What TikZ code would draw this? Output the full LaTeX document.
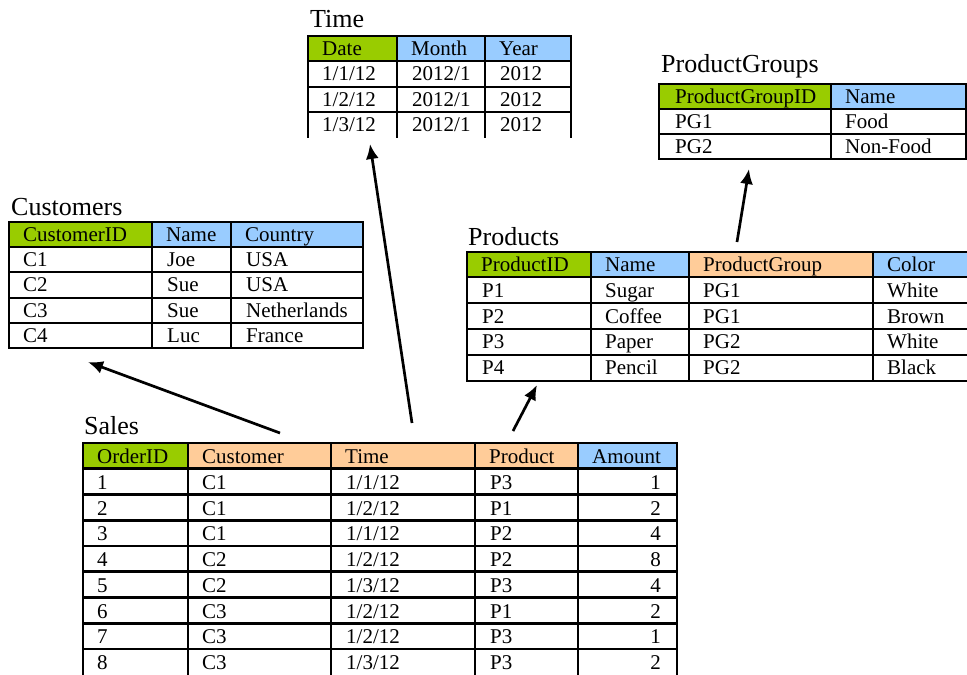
\documentclass[tikz,border=0pt]{standalone}
\usepackage{fontspec}
\setmainfont{Liberation Serif}
\usetikzlibrary{arrows.meta}
\definecolor{keygreen}{HTML}{99CC00}
\definecolor{attrblue}{HTML}{99CCFF}
\definecolor{fkorange}{HTML}{FFCC99}

\begin{document}
\begin{tikzpicture}[
    x=1pt, y=-1pt,
    every node/.style={font=\fontsize{21}{24}\selectfont, inner sep=0pt},
    title/.style={anchor=base west, font=\fontsize{26}{30}\selectfont},
    cell/.style={anchor=base west},
    num/.style={anchor=base east},
    grid/.style={line width=2.7pt, line cap=rect},
    link/.style={-{Latex[length=15pt,width=13pt]}, line width=2.7pt}
]
\useasboundingbox (0,0) rectangle (967,675);

% Time
\node[title] (timeT) at (310,27) {Time};
\fill[keygreen] (308,36) rectangle (397,61);
\fill[attrblue] (397,36) rectangle (571,61);
\draw[grid] (308,137) -- (308,36) -- (571,36) -- (571,137);
\foreach \y in {61,87,112} \draw[grid] (308,\y) -- (571,\y);
\foreach \x in {397,485} \draw[grid] (\x,36) -- (\x,137);
\foreach \t/\x [count=\c] in {Date/308,Month/397,Year/485}
  \node[cell] (time-h\c) at (\x+14,55) {\t};
\foreach \d/\m/\yr [count=\r] in {{1/1/12}/{2012/1}/2012,{1/2/12}/{2012/1}/2012,{1/3/12}/{2012/1}/2012} {
  \node[cell] (time-\r-1) at (322,55.5+25.3*\r) {\d};
  \node[cell] (time-\r-2) at (412,55.5+25.3*\r) {\m};
  \node[cell] (time-\r-3) at (500,55.5+25.3*\r) {\yr};
}

% ProductGroups
\node[title] (groupsT) at (661,72) {ProductGroups};
\fill[keygreen] (659,84) rectangle (831,109);
\fill[attrblue] (831,84) rectangle (966,109);
\draw[grid] (659,84) rectangle (966,159);
\foreach \y in {109,134} \draw[grid] (659,\y) -- (966,\y);
\draw[grid] (831,84) -- (831,159);
\node[cell] (groups-h1) at (675,103) {ProductGroupID};
\node[cell] (groups-h2) at (845,103) {Name};
\foreach \g/\n [count=\r] in {PG1/Food,PG2/Non-Food} {
  \node[cell] (groups-\r-1) at (675,103.5+25*\r) {\g};
  \node[cell] (groups-\r-2) at (845,103.5+25*\r) {\n};
}

% Customers
\node[title] (custT) at (11,215) {Customers};
\fill[keygreen] (9,222) rectangle (152,247);
\fill[attrblue] (152,222) rectangle (363,247);
\draw[grid] (9,222) rectangle (363,348);
\foreach \y in {247,272,298,323} \draw[grid] (9,\y) -- (363,\y);
\foreach \x in {152,231} \draw[grid] (\x,222) -- (\x,348);
\foreach \t/\x [count=\c] in {CustomerID/9,Name/152,Country/231}
  \node[cell] (cust-h\c) at (\x+14,241) {\t};
\foreach \id/\n/\co [count=\r] in {C1/Joe/USA,C2/Sue/USA,C3/Sue/Netherlands,C4/Luc/France} {
  \node[cell] (cust-\r-1) at (23,241.5+25.2*\r) {\id};
  \node[cell] (cust-\r-2) at (167,241.5+25.2*\r) {\n};
  \node[cell] (cust-\r-3) at (246,241.5+25.2*\r) {\co};
}

% Products
\node[title] (prodT) at (468,245) {Products};
\fill[keygreen] (467,252) rectangle (591,277);
\fill[attrblue] (591,252) rectangle (689,277);
\fill[fkorange] (689,252) rectangle (873,277);
\fill[attrblue] (873,252) rectangle (980,277);
\draw[grid] (980,252) -- (467,252) -- (467,381) -- (980,381);
\foreach \y in {277,303,329,355} \draw[grid] (467,\y) -- (980,\y);
\foreach \x in {591,689,873} \draw[grid] (\x,252) -- (\x,381);
\foreach \t/\x [count=\c] in {ProductID/467,Name/591,ProductGroup/689,Color/873}
  \node[cell] (prod-h\c) at (\x+14,271) {\t};
\foreach \id/\n/\g/\co [count=\r] in {P1/Sugar/PG1/White,P2/Coffee/PG1/Brown,P3/Paper/PG2/White,P4/Pencil/PG2/Black} {
  \node[cell] (prod-\r-1) at (482,271.5+25.8*\r) {\id};
  \node[cell] (prod-\r-2) at (605,271.5+25.8*\r) {\n};
  \node[cell] (prod-\r-3) at (703,271.5+25.8*\r) {\g};
  \node[cell] (prod-\r-4) at (887,271.5+25.8*\r) {\co};
}

% Sales
\node[title] (salesT) at (84,434) {Sales};
\fill[keygreen] (83,443) rectangle (188,469);
\fill[fkorange] (188,443) rectangle (578,469);
\fill[attrblue] (578,443) rectangle (677,469);
\draw[grid] (83,690) -- (83,443) -- (677,443) -- (677,690);
\foreach \r in {1,...,8} \draw[grid] (83,443+25.75*\r) -- (677,443+25.75*\r);
\foreach \x in {188,331,475,578} \draw[grid] (\x,443) -- (\x,690);
\foreach \t/\x [count=\c] in {OrderID/83,Customer/188,Time/331,Product/475,Amount/578}
  \node[cell] (sales-h\c) at (\x+14,463) {\t};
\foreach \o/\cu/\ti/\pr/\am [count=\r] in {1/C1/{1/1/12}/P3/1,2/C1/{1/2/12}/P1/2,3/C1/{1/1/12}/P2/4,4/C2/{1/2/12}/P2/8,5/C2/{1/3/12}/P3/4,6/C3/{1/2/12}/P1/2,7/C3/{1/2/12}/P3/1,8/C3/{1/3/12}/P3/2} {
  \node[cell] (sales-\r-1) at (97,463.5+25.75*\r) {\o};
  \node[cell] (sales-\r-2) at (202,463.5+25.75*\r) {\cu};
  \node[cell] (sales-\r-3) at (346,463.5+25.75*\r) {\ti};
  \node[cell] (sales-\r-4) at (490,463.5+25.75*\r) {\pr};
  \node[num] (sales-\r-5) at (661,463.5+25.75*\r) {\am};
}

% references
\coordinate (toCust) at (280,433);
\coordinate (custEnd) at (88,362);
\coordinate (toTime) at (412,423);
\coordinate (timeEnd) at (370,144);
\coordinate (toProd) at (513,431);
\coordinate (prodEnd) at (537,385);
\coordinate (toGroups) at (737,242);
\coordinate (groupsEnd) at (749,169);
\draw[link] (toCust) -- (custEnd);
\draw[link] (toTime) -- (timeEnd);
\draw[link] (toProd) -- (prodEnd);
\draw[link] (toGroups) -- (groupsEnd);
\end{tikzpicture}
\end{document}
